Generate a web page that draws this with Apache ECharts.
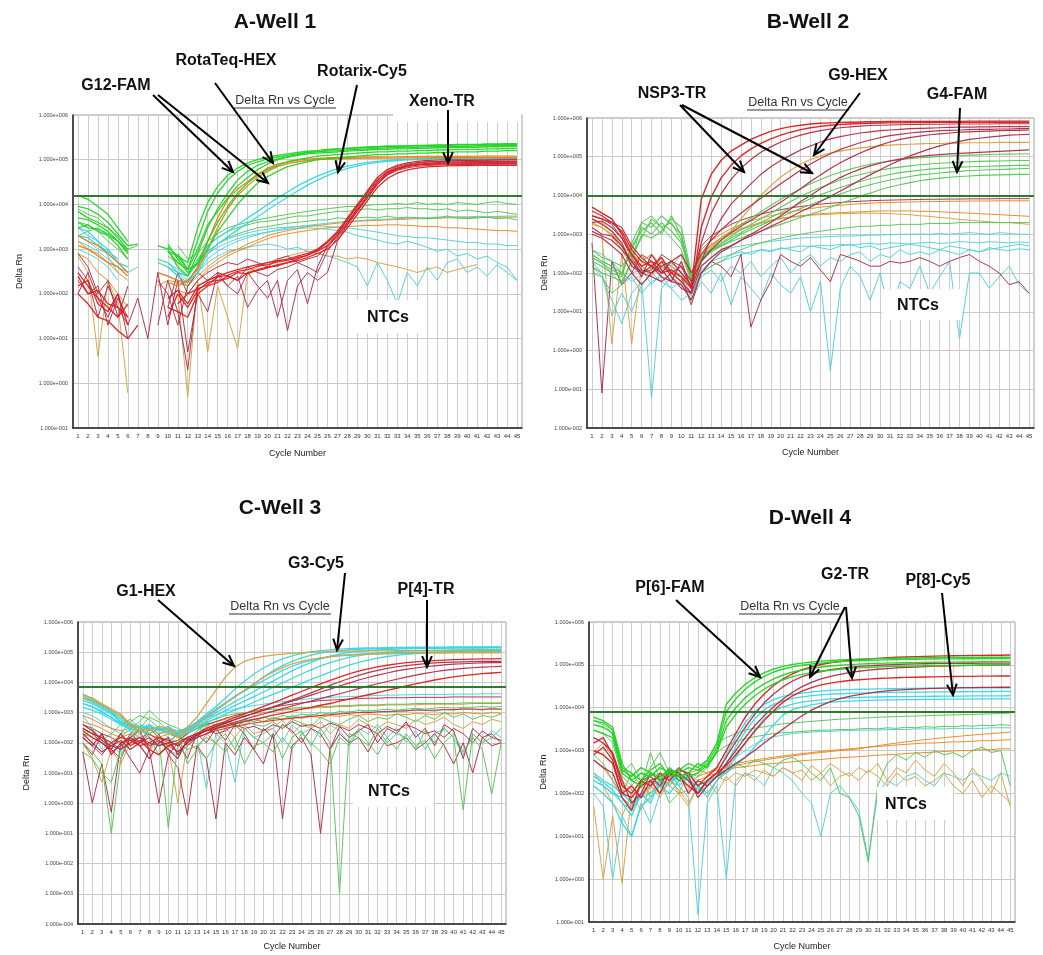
<!DOCTYPE html>
<html><head><meta charset="utf-8">
<script src="https://cdn.jsdelivr.net/npm/echarts@6/dist/echarts.min.js"></script>
<style>html,body{margin:0;padding:0;background:#fff}#c{width:1043px;height:955px}</style>
</head><body><div id="c"></div>
<script>
// ---------- axes ----------
const cycles = [1,2,3,4,5,6,7,8,9,10,11,12,13,14,15,16,17,18,19,20,21,22,23,24,25,26,27,28,29,30,31,32,33,34,35,36,37,38,39,40,41,42,43,44,45];
const yTicksA = [0.1,1,10,100,1e3,1e4,1e5,1e6];
const yTicksB = [0.01,0.1,1,10,100,1e3,1e4,1e5,1e6];
const yTicksC = [1e-4,1e-3,0.01,0.1,1,10,100,1e3,1e4,1e5,1e6];
const yTicksD = [0.1,1,10,100,1e3,1e4,1e5,1e6];
const thresholdA = 1.6e4, thresholdB = 1e4, thresholdC = 7e3, thresholdD = 8e3;

// ---------- A-Well 1 ----------
const aG1 = [1.6e4,1.3e4,9e3,6e3,3e3,1.5e3,null,null,null,1.1e3,700,500,3e3,1.1e4,2.5e4,4.5e4,6.5e4,8.5e4,1e5,1.15e5,1.25e5,1.35e5,1.45e5,1.55e5,1.6e5,1.7e5,1.75e5,1.8e5,1.85e5,1.9e5,1.95e5,2e5,2e5,2.05e5,2.1e5,2.1e5,2.15e5,2.15e5,2.2e5,2.2e5,2.2e5,2.25e5,2.25e5,2.3e5,2.3e5];
const aG2 = [9e3,8e3,6e3,4e3,2.2e3,1.2e3,1.3e3,null,null,900,500,350,1.6e3,7e3,1.8e4,3.5e4,5.5e4,7.5e4,9e4,1.05e5,1.15e5,1.25e5,1.35e5,1.45e5,1.5e5,1.55e5,1.6e5,1.65e5,1.7e5,1.75e5,1.8e5,1.85e5,1.85e5,1.9e5,1.9e5,1.95e5,1.95e5,2e5,2e5,2e5,2.05e5,2.05e5,2.1e5,2.1e5,2.1e5];
const aG3 = [5e3,4.5e3,3.5e3,2.5e3,1.5e3,900,null,null,1.2e3,1e3,400,250,800,3e3,8e3,1.8e4,3.5e4,5.5e4,7.5e4,9e4,1.05e5,1.15e5,1.25e5,1.35e5,1.4e5,1.45e5,1.5e5,1.55e5,1.6e5,1.65e5,1.7e5,1.7e5,1.75e5,1.75e5,1.8e5,1.8e5,1.85e5,1.85e5,1.9e5,1.9e5,1.9e5,1.95e5,1.95e5,2e5,2e5];
const aG4 = [3e3,3.5e3,2.5e3,2e3,1.2e3,600,null,null,null,1.3e3,600,300,500,1.5e3,4e3,9e3,1.8e4,3e4,4.5e4,6e4,7.5e4,9e4,1e5,1.1e5,1.2e5,1.25e5,1.3e5,1.35e5,1.4e5,1.45e5,1.5e5,1.5e5,1.55e5,1.55e5,1.6e5,1.6e5,1.65e5,1.65e5,1.7e5,1.7e5,1.7e5,1.75e5,1.75e5,1.8e5,1.8e5];
const aG5 = [7e3,5e3,4e3,3e3,1.8e3,1e3,null,null,null,null,800,350,450,1e3,2.5e3,5e3,1e4,1.8e4,3e4,4.2e4,5.5e4,7e4,8e4,9e4,1e5,1.05e5,1.1e5,1.15e5,1.2e5,1.25e5,1.3e5,1.3e5,1.35e5,1.35e5,1.4e5,1.4e5,1.45e5,1.45e5,1.5e5,1.5e5,1.5e5,1.55e5,1.55e5,1.6e5,1.6e5];
const aG6 = [4e3,3e3,2.8e3,2.2e3,1.5e3,800,null,null,null,900,700,350,1e3,3.5e3,7e3,1.4e4,2.6e4,4e4,6e4,8e4,1e5,1.15e5,1.3e5,1.45e5,1.55e5,1.65e5,1.75e5,1.8e5,1.85e5,1.9e5,1.95e5,2e5,2e5,2.05e5,2.05e5,2.1e5,2.1e5,2.1e5,2.15e5,2.15e5,2.15e5,2.2e5,2.2e5,2.2e5,2.2e5];
const aO1 = [2e3,1.5e3,1.2e3,800,500,300,null,null,300,250,200,180,400,1.5e3,5e3,1.3e4,2.2e4,3.2e4,4.8e4,6.5e4,8e4,9e4,9.8e4,1.03e5,1.07e5,1.1e5,1.12e5,1.13e5,1.14e5,1.15e5,1.15e5,1.16e5,1.16e5,1.17e5,1.17e5,1.18e5,1.18e5,1.18e5,1.19e5,1.19e5,1.2e5,1.2e5,1.2e5,1.2e5,1.2e5];
const aO2 = [1.2e3,1e3,700,500,400,250,null,null,null,180,150,200,350,1e3,3e3,8e3,1.6e4,2.6e4,4e4,5.5e4,7e4,8.2e4,9e4,9.6e4,1e5,1.03e5,1.05e5,1.06e5,1.07e5,1.08e5,1.08e5,1.09e5,1.09e5,1.1e5,1.1e5,1.1e5,1.11e5,1.11e5,1.12e5,1.12e5,1.12e5,1.13e5,1.13e5,1.13e5,1.13e5];
const aC1 = [3e3,2.5e3,1.5e3,1e3,500,400,null,null,600,500,300,250,500,1.2e3,1.8e3,2.5e3,3.5e3,5e3,7e3,1e4,1.4e4,1.9e4,2.6e4,3.4e4,4.3e4,5.3e4,6.3e4,7.2e4,8e4,8.7e4,9.2e4,9.6e4,1e5,1.02e5,1.04e5,1.05e5,1.06e5,1.07e5,1.08e5,1.08e5,1.09e5,1.09e5,1.1e5,1.1e5,1.1e5];
const aC2 = [2e3,1.8e3,1.2e3,900,600,null,null,null,null,400,250,180,300,800,1.3e3,1.9e3,2.7e3,3.8e3,5.3e3,7.5e3,1.05e4,1.45e4,2e4,2.7e4,3.5e4,4.4e4,5.4e4,6.4e4,7.3e4,8.1e4,8.7e4,9.2e4,9.6e4,9.9e4,1.01e5,1.03e5,1.04e5,1.05e5,1.06e5,1.06e5,1.07e5,1.07e5,1.08e5,1.08e5,1.08e5];
const aR1 = [300,150,80,50,30,60,null,null,null,80,120,60,150,200,250,300,350,400,450,500,550,600,700,800,1e3,1.5e3,2.5e3,5e3,1e4,2e4,4e4,6e4,7.5e4,8.5e4,9.2e4,9.6e4,9.9e4,1.01e5,1.02e5,1.03e5,1.04e5,1.04e5,1.05e5,1.05e5,1.05e5];
const aR2 = [150,200,60,40,100,20,null,null,null,30,100,50,120,180,200,220,300,280,350,400,420,500,600,750,900,1.2e3,2e3,3.8e3,7.5e3,1.5e4,3e4,4.8e4,6.2e4,7.2e4,7.9e4,8.3e4,8.6e4,8.8e4,8.9e4,9e4,9e4,9e4,9.1e4,9.1e4,9.1e4];
const aR3 = [100,60,30,25,15,10,20,null,null,50,40,30,100,150,180,250,200,300,330,380,450,500,550,650,800,1e3,1.6e3,3e3,6e3,1.2e4,2.4e4,3.8e4,5e4,5.9e4,6.5e4,6.9e4,7.1e4,7.3e4,7.4e4,7.4e4,7.5e4,7.5e4,7.5e4,7.5e4,7.5e4];
const aR4 = [250,100,120,60,50,30,null,null,null,null,60,100,130,160,240,260,320,350,420,450,520,560,650,720,950,1.4e3,2.3e3,4.5e3,9e3,1.8e4,3.5e4,5.3e4,6.5e4,7.3e4,7.7e4,7.9e4,8e4,8.1e4,8.1e4,8.2e4,8.2e4,8.2e4,8.2e4,8.2e4,8.2e4];
const aNR1 = [400,200,30,150,50,20,80,10,300,20,200,5,100,40,300,150,250,50,120,200,30,200,350,60,400,1.2e3,2.2e3,4.5e3,9e3,1.8e4,3.5e4,5.5e4,7e4,8e4,8.6e4,9e4,9.2e4,9.4e4,9.5e4,9.6e4,9.7e4,9.7e4,9.8e4,9.8e4,9.8e4];
const aNR2 = [200,100,150,20,80,30,null,null,200,100,20,150,300,200,250,150,100,300,150,80,200,15,150,300,200,300,1.5e3,3.5e3,7e3,1.4e4,2.8e4,4.6e4,6e4,7e4,7.6e4,8e4,8.2e4,8.4e4,8.5e4,8.6e4,8.6e4,8.7e4,8.7e4,8.7e4,8.7e4];
const aNR3 = [100,300,80,30,100,10,null,null,20,200,40,2,150,200,300,250,200,400,300,250,350,400,500,400,300,900,1.8e3,3.5e3,7e3,1.4e4,2.8e4,4.5e4,5.8e4,6.6e4,7.1e4,7.4e4,7.6e4,7.7e4,7.8e4,7.8e4,7.9e4,7.9e4,7.9e4,8e4,8e4];
const aNR4 = [800,400,100,200,30,150,null,null,null,50,300,100,200,300,400,500,450,600,500,400,600,700,500,600,700,1.1e3,2e3,4e3,8e3,1.6e4,3.2e4,5e4,6.5e4,7.6e4,8.3e4,8.8e4,9.1e4,9.3e4,9.5e4,9.6e4,9.7e4,9.8e4,9.9e4,1e5,1e5];
const aNG1 = [8e3,6e3,5e3,3e3,2e3,1.2e3,null,null,null,null,1.2e3,600,800,1.5e3,2.2e3,3e3,3.5e3,4e3,4.5e3,5e3,5.5e3,6e3,6.5e3,7e3,7.5e3,8e3,8.5e3,9e3,9e3,9.5e3,1e4,1e4,1.05e4,1e4,1.1e4,1e4,1.05e4,1e4,1.1e4,1.05e4,1e4,1.1e4,1.15e4,1.05e4,1e4];
const aNG2 = [4e3,3.5e3,2.5e3,1.5e3,1e3,600,null,null,500,400,300,250,600,1.2e3,1.8e3,2.5e3,3e3,3.5e3,4e3,4.2e3,4.5e3,5e3,5.5e3,5.5e3,6e3,6.5e3,7e3,7e3,7.5e3,8e3,7.5e3,8e3,8e3,8.5e3,8e3,8e3,7.5e3,8e3,7e3,7.5e3,7e3,6.5e3,7e3,6.5e3,6e3];
const aNG3 = [2e3,2.5e3,3e3,2e3,1.5e3,1e3,1.2e3,null,null,700,500,350,500,900,1.3e3,1.8e3,2.2e3,2.6e3,3e3,3.2e3,3.5e3,3.8e3,4e3,4.2e3,4.5e3,4.5e3,5e3,4.8e3,5e3,5.2e3,5e3,5.5e3,5e3,5.2e3,5e3,4.8e3,5e3,5.5e3,5e3,4.8e3,5e3,5.2e3,4.8e3,5e3,4.5e3];
const aNO1 = [1.5e3,1e3,800,500,300,200,null,null,150,200,180,150,250,400,600,800,1e3,1.3e3,1.6e3,2e3,2.3e3,2.6e3,2.9e3,3.2e3,3.4e3,3.6e3,3.8e3,4e3,4.2e3,4.3e3,4.4e3,4.5e3,4.6e3,4.7e3,4.8e3,4.8e3,4.9e3,5e3,5e3,5e3,5.1e3,5.1e3,5.2e3,5.2e3,5.2e3];
const aNO2 = [800,600,300,200,100,50,null,null,null,80,120,100,200,350,500,700,900,1.1e3,1.4e3,1.7e3,2e3,2.2e3,2.4e3,2.6e3,2.8e3,3e3,3.1e3,3.2e3,3.3e3,3.4e3,3.4e3,3.5e3,3.5e3,3.4e3,3.3e3,3.2e3,3.2e3,3e3,3e3,2.9e3,2.8e3,2.7e3,2.6e3,2.6e3,2.5e3];
const aNO3 = [700,300,4,200,60,0.6,null,null,null,null,100,0.5,200,5,150,30,6,300,400,500,600,700,800,900,800,700,700,600,650,600,500,450,400,350,300,350,400,300,350,400,450,null,null,null,null];
const aNC1 = [1e3,800,600,400,200,null,null,null,300,250,200,150,300,600,900,1.2e3,1.5e3,1.8e3,2.1e3,2.4e3,2.7e3,3e3,3.2e3,3.4e3,3.6e3,3.8e3,4e3,4.2e3,4.3e3,4.5e3,4.6e3,4.7e3,4.8e3,4.9e3,5e3,5.1e3,5.2e3,5.2e3,5.3e3,5.3e3,5.4e3,5.4e3,5.4e3,5.5e3,5.5e3];
const aNC2 = [2e3,1.5e3,1e3,800,500,300,400,null,null,null,300,200,400,800,1.1e3,1.4e3,1.7e3,2e3,2.2e3,2.4e3,2.6e3,2.8e3,2.9e3,3e3,2.9e3,2.8e3,2.6e3,2.4e3,2e3,1.8e3,1.6e3,1.4e3,1.3e3,1.5e3,1.3e3,1.1e3,900,1e3,700,800,600,700,500,400,200];
const aNC3 = [3e3,2e3,1.5e3,700,300,null,null,null,null,null,250,150,300,500,700,900,1e3,1.1e3,1.2e3,1.3e3,1.2e3,1e3,1.1e3,900,800,700,600,500,400,150,500,200,60,300,150,400,200,500,600,300,400,250,450,300,200];
const aNC4 = [1.5e3,1.2e3,900,600,400,300,null,null,null,500,350,250,500,900,1.3e3,1.7e3,2e3,2.3e3,2.6e3,2.8e3,3e3,3.1e3,3.2e3,3.3e3,3.3e3,3.2e3,3.1e3,3e3,2.8e3,2.6e3,2.4e3,2.2e3,2e3,1.9e3,1.8e3,1.8e3,1.7e3,1.6e3,1.5e3,1.4e3,1.4e3,1.3e3,1.3e3,1.2e3,1.2e3];

// ---------- B-Well 2 ----------
const bR1 = [5e3,3.5e3,2.5e3,1e3,300,150,200,100,120,80,40,8e3,3.5e4,8e4,1.4e5,2e5,2.8e5,3.6e5,4.5e5,5.3e5,6e5,6.5e5,7e5,7.3e5,7.5e5,7.7e5,7.8e5,7.9e5,8e5,8e5,8.1e5,8.1e5,8.1e5,8.2e5,8.2e5,8.2e5,8.2e5,8.2e5,8.3e5,8.3e5,8.3e5,8.3e5,8.3e5,8.3e5,8.3e5];
const bR2 = [3e3,2.5e3,2e3,1.2e3,400,200,150,250,100,60,30,1.5e3,9e3,2.8e4,6e4,1.05e5,1.6e5,2.2e5,2.9e5,3.6e5,4.3e5,5e5,5.6e5,6.1e5,6.5e5,6.8e5,7e5,7.2e5,7.3e5,7.4e5,7.5e5,7.5e5,7.6e5,7.6e5,7.6e5,7.7e5,7.7e5,7.7e5,7.7e5,7.7e5,7.8e5,7.8e5,7.8e5,7.8e5,7.8e5];
const bR3 = [2e3,2.2e3,1.5e3,800,300,120,100,150,200,100,50,600,3.5e3,1.1e4,2.6e4,5e4,8.5e4,1.3e5,1.8e5,2.4e5,3e5,3.6e5,4.2e5,4.7e5,5.2e5,5.6e5,5.9e5,6.2e5,6.4e5,6.5e5,6.6e5,6.7e5,6.8e5,6.8e5,6.9e5,6.9e5,7e5,7e5,7e5,7e5,7e5,7.1e5,7.1e5,7.1e5,7.1e5];
const bR4 = [1.5e3,1e3,900,500,200,80,300,120,60,200,40,200,800,2.5e3,6e3,1.1e4,2e4,3.5e4,5.5e4,8e4,1.1e5,1.5e5,1.9e5,2.4e5,2.9e5,3.3e5,3.7e5,4.1e5,4.4e5,4.7e5,4.9e5,5.1e5,5.3e5,5.4e5,5.5e5,5.6e5,5.7e5,5.8e5,5.8e5,5.9e5,5.9e5,6e5,6e5,6e5,6e5];
const bR5 = [2.5e3,1.8e3,1.2e3,600,150,100,80,60,100,150,60,200,400,700,1.1e3,1.6e3,2.3e3,3.3e3,4.7e3,6.7e3,1e4,1.5e4,2.3e4,3.4e4,5e4,7e4,9.5e4,1.25e5,1.6e5,2e5,2.4e5,2.8e5,3.1e5,3.4e5,3.7e5,3.9e5,4.1e5,4.3e5,4.4e5,4.5e5,4.6e5,4.7e5,4.8e5,4.8e5,4.9e5];
const bR6 = [4e3,3e3,2e3,1.5e3,500,250,150,100,200,300,100,300,700,1.3e3,2.2e3,3.5e3,5.5e3,8.5e3,1.3e4,2e4,3e4,4.5e4,6.5e4,9e4,1.2e5,1.55e5,1.9e5,2.3e5,2.7e5,3.1e5,3.5e5,3.8e5,4.1e5,4.3e5,4.5e5,4.7e5,4.8e5,4.9e5,5e5,5.1e5,5.1e5,5.2e5,5.2e5,5.3e5,5.3e5];
const bR7 = [1e3,800,500,300,100,50,100,200,80,40,30,150,250,400,500,700,900,1.2e3,1.6e3,2.1e3,2.8e3,3.8e3,5e3,7e3,9.5e3,1.3e4,1.8e4,2.5e4,3.4e4,4.6e4,6.2e4,8.2e4,1.05e5,1.3e5,1.6e5,1.9e5,2.2e5,2.5e5,2.8e5,3e5,3.2e5,3.4e5,3.6e5,3.7e5,3.8e5];
const bR8 = [1.2e3,900,700,400,200,100,150,80,60,50,20,100,200,350,500,700,1e3,1.4e3,2e3,3e3,4.5e3,7e3,1e4,1.5e4,2.1e4,2.9e4,3.8e4,4.8e4,5.8e4,6.8e4,7.8e4,8.7e4,9.5e4,1.02e5,1.08e5,1.13e5,1.18e5,1.22e5,1.26e5,1.3e5,1.34e5,1.38e5,1.42e5,1.46e5,1.5e5];
const bO1 = [2e3,1.5e3,1e3,500,300,200,300,150,100,80,50,300,500,800,1.2e3,2.5e3,5e3,1e4,1.8e4,3e4,4.5e4,6.5e4,8.5e4,1.05e5,1.25e5,1.4e5,1.55e5,1.7e5,1.8e5,1.9e5,2e5,2.05e5,2.1e5,2.15e5,2.2e5,2.2e5,2.25e5,2.25e5,2.3e5,2.3e5,2.3e5,2.35e5,2.35e5,2.35e5,2.35e5];
const bG1 = [300,200,150,100,400,1.5e3,1e3,2e3,1.2e3,600,100,300,500,800,1.2e3,1.8e3,2.6e3,3.8e3,5.5e3,8e3,1.1e4,1.5e4,2e4,2.6e4,3.3e4,4e4,4.8e4,5.6e4,6.4e4,7.1e4,7.8e4,8.4e4,8.9e4,9.4e4,9.8e4,1.02e5,1.05e5,1.08e5,1.1e5,1.12e5,1.14e5,1.16e5,1.17e5,1.18e5,1.2e5];
const bG2 = [200,150,100,80,600,2e3,1.5e3,3e3,1.8e3,1e3,80,250,400,600,900,1.3e3,1.8e3,2.5e3,3.5e3,5e3,7e3,9.5e3,1.25e4,1.6e4,2e4,2.5e4,3e4,3.5e4,4e4,4.5e4,5e4,5.4e4,5.8e4,6.2e4,6.5e4,6.8e4,7e4,7.2e4,7.4e4,7.6e4,7.7e4,7.8e4,7.9e4,8e4,8e4];
const bG3 = [400,250,200,150,300,800,2.5e3,1.5e3,2e3,700,60,200,350,500,700,1e3,1.3e3,1.7e3,2.2e3,2.8e3,3.6e3,4.6e3,5.8e3,7.3e3,9e3,1.1e4,1.35e4,1.6e4,1.9e4,2.2e4,2.5e4,2.8e4,3.1e4,3.4e4,3.6e4,3.8e4,4e4,4.2e4,4.4e4,4.5e4,4.6e4,4.7e4,4.8e4,4.9e4,5e4];
const bG4 = [150,100,80,60,200,1e3,800,1.2e3,2.5e3,1.5e3,100,300,400,500,650,800,1e3,1.2e3,1.5e3,1.8e3,2.2e3,2.7e3,3.3e3,4e3,5e3,6.2e3,7.7e3,9.5e3,1.15e4,1.4e4,1.65e4,1.9e4,2.15e4,2.4e4,2.6e4,2.8e4,2.95e4,3.1e4,3.2e4,3.3e4,3.35e4,3.4e4,3.45e4,3.5e4,3.5e4];
const bG5 = [250,180,120,90,500,1.2e3,2e3,1e3,3e3,900,70,220,380,550,800,1.1e3,1.5e3,2e3,2.7e3,3.6e3,4.8e3,6.3e3,8.2e3,1.05e4,1.3e4,1.6e4,1.95e4,2.3e4,2.7e4,3.1e4,3.5e4,3.9e4,4.2e4,4.5e4,4.8e4,5e4,5.2e4,5.4e4,5.5e4,5.6e4,5.7e4,5.8e4,5.9e4,6e4,6e4];
const bNG1 = [100,80,30,50,200,2e3,3e3,1.5e3,800,400,60,100,150,200,300,400,500,600,700,800,900,1e3,1.1e3,1.2e3,1.3e3,1.4e3,1.5e3,1.6e3,1.6e3,1.7e3,1.7e3,1.8e3,1.8e3,1.8e3,1.9e3,1.9e3,1.9e3,2e3,2e3,2e3,2e3,2e3,2e3,2e3,2e3];
const bNO1 = [2.5e3,2e3,1.2e3,500,200,150,100,200,150,100,40,400,700,1e3,1.4e3,1.8e3,2.2e3,2.6e3,3e3,3.4e3,3.8e3,4.2e3,4.6e3,5e3,5.3e3,5.6e3,5.9e3,6.1e3,6.3e3,6.5e3,6.6e3,6.7e3,6.8e3,6.9e3,7e3,7e3,7.1e3,7.1e3,7.2e3,7.2e3,7.2e3,7.3e3,7.3e3,7.3e3,7.3e3];
const bNO2 = [1.8e3,1.5e3,900,400,150,300,120,250,100,80,50,300,550,800,1.1e3,1.4e3,1.7e3,2e3,2.3e3,2.6e3,2.8e3,3e3,3.2e3,3.4e3,3.5e3,3.6e3,3.7e3,3.8e3,3.9e3,4e3,4e3,4e3,4e3,3.9e3,3.9e3,3.8e3,3.7e3,3.6e3,3.5e3,3.4e3,3.3e3,3.2e3,3.1e3,3e3,2.9e3];
const bNO3 = [1.2e3,900,1.5,300,1.5,150,80,200,150,300,60,250,450,700,1e3,1.3e3,1.6e3,1.9e3,2.2e3,2.5e3,2.7e3,2.9e3,3.1e3,3.2e3,3.3e3,3.4e3,3.4e3,3.5e3,3.5e3,3.5e3,3.4e3,3.3e3,3.2e3,3e3,2.9e3,2.7e3,2.6e3,2.4e3,2.3e3,2.2e3,2.1e3,2e3,2e3,1.9e3,1.8e3];
const bNR1 = [3e3,2.5e3,1.8e3,800,250,100,120,300,200,150,40,500,900,1.3e3,1.8e3,2.3e3,2.8e3,3.3e3,3.8e3,4.3e3,4.8e3,5.2e3,5.6e3,6e3,6.3e3,6.6e3,6.9e3,7.1e3,7.3e3,7.5e3,7.6e3,7.7e3,7.8e3,7.9e3,8e3,8e3,8.1e3,8.1e3,8.2e3,8.2e3,8.2e3,8.3e3,8.3e3,8.3e3,8.3e3];
const bNR2 = [600,0.08,200,50,100,300,200,150,100,80,15,100,200,150,80,300,4,20,60,300,200,150,250,120,60,300,250,200,150,150,200,180,200,250,200,150,200,250,300,200,150,100,50,60,30];
const bNC1 = [300,200,150,60,100,120,50,100,150,80,30,100,150,200,250,300,350,400,380,420,450,500,480,520,500,550,520,560,580,550,600,580,560,600,620,580,600,650,620,600,640,620,600,630,600];
const bNC2 = [200,100,8,30,10,50,100,60,40,20,30,80,120,60,150,100,200,80,150,250,100,200,300,150,250,200,300,350,200,300,250,400,300,350,300,400,350,300,400,350,450,400,380,420,400];
const bNC3 = [150,80,20,5,30,60,0.06,40,80,50,20,60,30,100,15,80,40,20,100,50,30,80,10,60,0.3,40,150,80,20,100,8,60,40,150,30,80,200,2,100,100,40,80,150,50,30];
const bNC4 = [250,180,100,50,80,30,60,80,40,60,25,120,200,250,300,350,300,400,350,450,400,350,500,450,400,500,550,450,500,400,450,500,550,500,450,400,500,450,400,350,400,450,500,550,500];
const bNC5 = [400,300,200,100,60,90,150,120,200,100,40,150,250,350,450,500,550,600,650,700,750,800,820,850,870,900,900,920,950,950,980,1e3,1e3,1.02e3,1e3,1.05e3,1e3,1.05e3,1.1e3,1.05e3,1e3,1.1e3,1.05e3,1e3,1e3];

// ---------- C-Well 3 ----------
const cG1 = [4e3,3e3,2e3,1.3e3,900,400,300,250,350,300,200,330,700,2e3,5.6e3,1.5e4,3.2e4,5e4,6.3e4,7.3e4,8e4,8.7e4,9.2e4,9.6e4,1e5,1.03e5,1.05e5,1.07e5,1.09e5,1.1e5,1.1e5,1.11e5,1.11e5,1.12e5,1.12e5,1.12e5,1.13e5,1.13e5,1.13e5,1.14e5,1.14e5,1.14e5,1.15e5,1.15e5,1.15e5];
const cG2 = [3e3,2.5e3,1.8e3,1.2e3,800,350,250,300,200,250,150,250,400,700,1.2e3,2e3,3.3e3,5.5e3,9e3,1.45e4,2.2e4,3.1e4,4.1e4,5e4,5.8e4,6.5e4,7e4,7.5e4,7.9e4,8.2e4,8.5e4,8.7e4,8.9e4,9e4,9.1e4,9.2e4,9.3e4,9.4e4,9.4e4,9.5e4,9.5e4,9.6e4,9.6e4,9.6e4,9.6e4];
const cC1 = [3e3,2.2e3,1.5e3,1e3,600,400,350,300,280,300,250,300,500,900,1.6e3,3e3,6e3,1.1e4,1.9e4,3e4,4.4e4,6e4,7.6e4,9e4,1.02e5,1.12e5,1.2e5,1.26e5,1.31e5,1.35e5,1.38e5,1.4e5,1.42e5,1.44e5,1.45e5,1.46e5,1.47e5,1.48e5,1.48e5,1.49e5,1.49e5,1.5e5,1.5e5,1.5e5,1.5e5];
const cC2 = [2.5e3,2e3,1.3e3,900,500,350,300,400,250,350,200,280,450,750,1.2e3,2e3,3.5e3,5.5e3,9e3,1.5e4,2.4e4,3.6e4,5e4,6.5e4,8e4,9.3e4,1.04e5,1.12e5,1.19e5,1.24e5,1.28e5,1.31e5,1.34e5,1.36e5,1.38e5,1.39e5,1.4e5,1.41e5,1.42e5,1.42e5,1.43e5,1.43e5,1.44e5,1.44e5,1.44e5];
const cC3 = [2e3,1.6e3,1.1e3,700,450,300,250,200,300,220,180,250,400,650,1e3,1.5e3,2.3e3,3.4e3,5e3,7.5e3,1.1e4,1.65e4,2.4e4,3.4e4,4.6e4,6e4,7.4e4,8.7e4,9.8e4,1.07e5,1.14e5,1.19e5,1.23e5,1.26e5,1.29e5,1.31e5,1.33e5,1.34e5,1.35e5,1.36e5,1.37e5,1.38e5,1.38e5,1.39e5,1.39e5];
const cC4 = [4e3,2.8e3,1.8e3,1.1e3,700,450,300,350,280,300,200,230,350,550,800,1.2e3,1.7e3,2.4e3,3.4e3,4.8e3,6.8e3,9.6e3,1.35e4,1.9e4,2.6e4,3.5e4,4.5e4,5.6e4,6.7e4,7.7e4,8.6e4,9.3e4,9.9e4,1.04e5,1.08e5,1.11e5,1.14e5,1.16e5,1.18e5,1.19e5,1.2e5,1.21e5,1.22e5,1.22e5,1.23e5];
const cC5 = [1.5e3,1.2e3,900,600,400,280,250,300,200,250,170,210,300,450,650,900,1.2e3,1.6e3,2.2e3,3e3,4e3,5.3e3,7e3,9.3e3,1.25e4,1.65e4,2.2e4,2.9e4,3.7e4,4.6e4,5.5e4,6.4e4,7.2e4,7.9e4,8.5e4,9e4,9.4e4,9.8e4,1.01e5,1.04e5,1.06e5,1.08e5,1.09e5,1.1e5,1.1e5];
const cC6 = [3.5e3,2.5e3,1.6e3,1e3,500,380,330,280,320,260,220,300,480,800,1.3e3,2.1e3,3.4e3,5.2e3,7.8e3,1.15e4,1.7e4,2.5e4,3.4e4,4.4e4,5.4e4,6.3e4,7.1e4,7.8e4,8.3e4,8.7e4,9e4,9.3e4,9.5e4,9.7e4,9.8e4,9.9e4,1e5,1.01e5,1.02e5,1.02e5,1.03e5,1.03e5,1.04e5,1.04e5,1.05e5];
const cR1 = [300,200,150,100,150,120,80,100,150,120,80,150,200,300,400,500,700,900,1.2e3,1.6e3,2.1e3,2.8e3,3.8e3,5e3,6.7e3,8.9e3,1.17e4,1.5e4,1.9e4,2.35e4,2.8e4,3.25e4,3.7e4,4.1e4,4.5e4,4.8e4,5.1e4,5.3e4,5.5e4,5.65e4,5.8e4,5.9e4,6e4,6e4,6.1e4];
const cR2 = [200,100,50,80,120,60,100,150,80,100,50,100,180,250,350,450,600,750,950,1.2e3,1.5e3,1.9e3,2.4e3,3e3,3.8e3,4.8e3,6e3,7.6e3,9.5e3,1.2e4,1.45e4,1.75e4,2.05e4,2.4e4,2.7e4,3e4,3.3e4,3.55e4,3.8e4,4e4,4.15e4,4.3e4,4.4e4,4.5e4,4.5e4];
const cR3 = [150,80,200,40,100,150,80,30,100,150,40,120,150,200,300,380,480,600,750,900,1.1e3,1.35e3,1.65e3,2e3,2.4e3,2.9e3,3.5e3,4.2e3,5.1e3,6.2e3,7.5e3,9e3,1.07e4,1.27e4,1.5e4,1.75e4,2e4,2.25e4,2.5e4,2.7e4,2.9e4,3.05e4,3.2e4,3.3e4,3.4e4];
const cR4 = [250,150,100,60,200,80,120,60,40,80,100,150,200,250,300,350,420,500,600,700,820,950,1.1e3,1.3e3,1.5e3,1.75e3,2e3,2.4e3,2.8e3,3.3e3,3.9e3,4.6e3,5.4e3,6.4e3,7.6e3,8.9e3,1.04e4,1.2e4,1.36e4,1.52e4,1.68e4,1.82e4,1.95e4,2.05e4,2.15e4];
const cR5 = [400,250,120,80,60,100,150,80,120,60,30,130,180,260,350,450,580,750,950,1.2e3,1.55e3,2e3,2.6e3,3.4e3,4.5e3,6e3,8e3,1.05e4,1.35e4,1.7e4,2.1e4,2.5e4,2.9e4,3.3e4,3.6e4,3.9e4,4.2e4,4.4e4,4.6e4,4.7e4,4.8e4,4.9e4,5e4,5e4,5e4];
const cNG1 = [200,150,100,80,150,300,500,1.2e3,600,400,300,200,300,500,600,800,900,1e3,1.1e3,1.2e3,1.3e3,1.3e3,1.4e3,1.5e3,1.5e3,1.6e3,1.6e3,1.7e3,1.7e3,1.8e3,1.8e3,1.8e3,1.9e3,1.9e3,1.9e3,2e3,2e3,2e3,2e3,2e3,2.1e3,2.1e3,2.1e3,2.1e3,2.1e3];
const cNG2 = [100,50,20,0.1,30,200,400,300,150,0.15,100,60,80,150,100,200,60,300,150,100,200,30,150,250,80,300,100,0.001,200,150,80,300,100,200,150,60,250,100,300,150,0.6,200,100,150,300];
const cNG3 = [300,200,150,100,200,500,800,600,300,200,150,100,250,400,300,500,400,600,500,700,600,800,700,900,800,1e3,900,1.1e3,1e3,1.2e3,1.1e3,1.2e3,1.3e3,1.2e3,1.3e3,1.4e3,1.3e3,1.4e3,1.5e3,1.4e3,1.5e3,1.5e3,1.6e3,1.5e3,1.6e3];
const cNG4 = [50,30,10,5,60,100,300,150,40,100,200,20,60,30,100,50,150,20,80,100,50,150,60,200,100,50,20,150,80,250,100,40,150,60,200,80,120,30,100,200,50,150,60,2,100];
const cNG5 = [150,300,120,200,400,600,300,700,500,250,180,120,200,350,250,450,300,550,400,350,500,300,600,450,350,700,500,400,600,800,500,700,600,900,700,500,800,600,1e3,700,900,600,800,700,900];
const cNR1 = [300,200,100,50,80,150,100,200,120,80,50,100,150,200,250,300,350,400,450,500,550,600,650,700,750,800,850,900,950,1e3,1e3,1.05e3,1.1e3,1.1e3,1.15e3,1.2e3,1.2e3,1.2e3,1.25e3,1.25e3,1.3e3,1.3e3,1.3e3,1.3e3,1.3e3];
const cNR2 = [50,1,20,0.5,100,30,10,60,1,40,15,0.4,80,30,0.3,100,40,150,60,20,200,0.3,80,150,40,0.1,60,200,100,150,50,200,80,100,150,60,100,200,80,20,100,10,150,80,100];
const cNR3 = [400,300,200,150,100,120,150,100,80,100,120,200,300,400,500,650,800,950,1.1e3,1.3e3,1.5e3,1.7e3,1.9e3,2.1e3,2.3e3,2.5e3,2.6e3,2.7e3,2.8e3,2.9e3,3e3,3e3,3.1e3,3.1e3,3.1e3,3.2e3,3.2e3,3.2e3,3.2e3,3.3e3,3.3e3,3.3e3,3.3e3,3.3e3,3.3e3];
const cNR4 = [150,80,40,100,60,200,100,300,150,100,200,80,150,300,200,250,400,300,350,250,400,300,500,350,400,300,450,350,250,400,300,200,350,250,400,300,200,250,150,300,200,100,250,150,120];
const cNR5 = [100,40,200,60,30,150,250,60,200,40,100,30,200,100,300,120,400,200,60,300,150,400,250,100,300,200,60,350,150,250,400,100,300,200,500,150,300,80,400,250,30,300,150,200,100];
const cNO1 = [500,400,300,200,150,200,250,180,150,200,150,200,300,400,500,600,700,800,900,1e3,1.1e3,1.2e3,1.3e3,1.3e3,1.4e3,1.5e3,1.5e3,1.6e3,1.6e3,1.7e3,1.7e3,1.7e3,1.8e3,1.8e3,1.8e3,1.8e3,1.9e3,1.9e3,1.9e3,1.9e3,1.9e3,2e3,2e3,2e3,2e3];
const cNO2 = [100,30,5,60,20,100,200,50,150,80,1,100,60,200,100,300,150,400,200,250,300,600,200,400,300,500,200,400,300,600,400,300,500,400,300,600,400,500,700,400,300,500,400,600,500];
const cNO3 = [800,600,400,300,250,300,200,350,250,300,200,260,350,450,400,500,450,550,600,500,650,600,700,650,750,700,800,750,850,800,900,850,800,900,850,950,900,850,950,900,1e3,950,900,1e3,950];
const cNC1 = [2e3,1.5e3,1e3,700,400,350,300,350,280,300,220,300,450,650,850,1.1e3,1.3e3,1.5e3,1.7e3,1.9e3,2.1e3,2.3e3,2.5e3,2.7e3,2.9e3,3e3,3.2e3,3.3e3,3.4e3,3.5e3,3.6e3,3.7e3,3.8e3,3.8e3,3.9e3,3.9e3,4e3,4e3,4e3,4.1e3,4.1e3,4.1e3,4.2e3,4.2e3,4.2e3];
const cNC2 = [1e3,800,500,300,200,250,150,200,300,150,100,200,300,250,400,300,500,400,600,500,700,600,800,700,900,800,1e3,900,1.1e3,1e3,1.2e3,1.1e3,1e3,1.2e3,1.1e3,1.3e3,1.2e3,1.1e3,1.3e3,1.2e3,1.4e3,1.3e3,1.2e3,1.4e3,1.3e3];
const cNC3 = [800,300,60,100,40,150,300,200,100,60,40,80,150,3,200,100,5,300,150,200,300,100,400,200,300,150,400,250,100,300,200,400,150,300,100,250,60,200,300,150,40,200,100,250,150];

// ---------- D-Well 4 ----------
const dG1 = [6e3,5e3,3.5e3,500,200,300,250,400,300,350,500,400,600,1.5e3,1.2e4,2.2e4,3.5e4,5e4,6.5e4,8e4,9.2e4,1.02e5,1.1e5,1.17e5,1.22e5,1.26e5,1.3e5,1.33e5,1.36e5,1.38e5,1.4e5,1.42e5,1.43e5,1.44e5,1.45e5,1.46e5,1.47e5,1.48e5,1.48e5,1.49e5,1.49e5,1.5e5,1.5e5,1.5e5,1.5e5];
const dG2 = [5e3,4.5e3,3e3,400,300,200,350,500,250,300,400,350,500,1.2e3,8e3,1.6e4,2.7e4,4e4,5.4e4,6.8e4,8e4,9e4,9.8e4,1.05e5,1.1e5,1.15e5,1.19e5,1.22e5,1.25e5,1.27e5,1.29e5,1.31e5,1.33e5,1.34e5,1.35e5,1.36e5,1.37e5,1.38e5,1.38e5,1.39e5,1.39e5,1.4e5,1.4e5,1.4e5,1.4e5];
const dG3 = [4e3,3.5e3,2.5e3,350,250,400,300,200,400,250,300,500,400,1e3,5e3,1e4,1.7e4,2.6e4,3.6e4,4.7e4,5.8e4,6.8e4,7.6e4,8.3e4,8.9e4,9.4e4,9.8e4,1.01e5,1.04e5,1.06e5,1.08e5,1.1e5,1.11e5,1.12e5,1.13e5,1.14e5,1.15e5,1.16e5,1.16e5,1.17e5,1.17e5,1.18e5,1.18e5,1.19e5,1.2e5];
const dG4 = [3e3,2.5e3,2e3,300,200,150,300,250,350,200,250,300,450,900,3.5e3,7e3,1.2e4,1.9e4,2.7e4,3.6e4,4.5e4,5.3e4,6e4,6.6e4,7.1e4,7.5e4,7.9e4,8.2e4,8.5e4,8.7e4,8.9e4,9.1e4,9.2e4,9.3e4,9.4e4,9.5e4,9.6e4,9.7e4,9.7e4,9.8e4,9.8e4,9.9e4,9.9e4,1e5,1e5];
const dR1 = [1.5e3,2e3,800,150,100,200,150,300,200,350,300,150,250,400,1e3,2.5e3,6e3,1.2e4,2.1e4,3.3e4,4.7e4,6.2e4,7.7e4,9e4,1.02e5,1.12e5,1.2e5,1.27e5,1.33e5,1.38e5,1.42e5,1.46e5,1.5e5,1.53e5,1.56e5,1.58e5,1.6e5,1.62e5,1.63e5,1.64e5,1.65e5,1.66e5,1.67e5,1.68e5,1.7e5];
const dR2 = [800,1.2e3,600,100,80,150,200,250,350,300,200,100,200,300,700,1.6e3,3.5e3,7e3,1.3e4,2.1e4,3.1e4,4.2e4,5.3e4,6.2e4,7e4,7.7e4,8.3e4,8.8e4,9.2e4,9.5e4,9.8e4,1e5,1.02e5,1.04e5,1.05e5,1.06e5,1.07e5,1.08e5,1.08e5,1.09e5,1.09e5,1.1e5,1.1e5,1.1e5,1.1e5];
const dR3 = [2e3,1.5e3,900,200,60,100,300,200,250,400,250,80,150,250,500,1e3,2e3,3.8e3,6.5e3,1.05e4,1.6e4,2.3e4,3.1e4,3.9e4,4.7e4,5.4e4,6e4,6.6e4,7.1e4,7.5e4,7.9e4,8.2e4,8.5e4,8.7e4,8.9e4,9.1e4,9.3e4,9.4e4,9.5e4,9.6e4,9.7e4,9.8e4,9.9e4,1e5,1e5];
const dR4 = [1e3,800,500,100,150,80,200,100,300,250,150,100,200,300,450,800,1.5e3,2.8e3,5e3,8.5e3,1.35e4,1.9e4,2.45e4,2.95e4,3.4e4,3.75e4,4.05e4,4.3e4,4.5e4,4.65e4,4.8e4,4.9e4,5e4,5.1e4,5.15e4,5.2e4,5.25e4,5.3e4,5.35e4,5.4e4,5.4e4,5.45e4,5.45e4,5.5e4,5.5e4];
const dR5 = [600,400,300,80,40,200,250,150,350,300,100,200,150,250,350,500,700,1e3,1.5e3,2.2e3,3.2e3,4.6e3,6.5e3,8.8e3,1.12e4,1.38e4,1.62e4,1.84e4,2.03e4,2.2e4,2.35e4,2.47e4,2.57e4,2.65e4,2.72e4,2.78e4,2.83e4,2.87e4,2.9e4,2.93e4,2.95e4,2.97e4,2.98e4,3e4,3e4];
const dC1 = [300,200,150,100,60,80,100,150,200,250,200,150,200,300,800,2e3,4.5e3,8e3,1.2e4,1.55e4,1.85e4,2.05e4,2.2e4,2.35e4,2.45e4,2.55e4,2.6e4,2.65e4,2.7e4,2.72e4,2.75e4,2.77e4,2.8e4,2.82e4,2.84e4,2.85e4,2.86e4,2.87e4,2.88e4,2.89e4,2.9e4,2.9e4,2.9e4,2.9e4,2.9e4];
const dC2 = [200,150,100,80,40,100,150,200,300,150,250,100,150,250,500,1.2e3,2.8e3,5.5e3,9e3,1.2e4,1.45e4,1.65e4,1.8e4,1.92e4,2e4,2.07e4,2.12e4,2.16e4,2.2e4,2.22e4,2.25e4,2.27e4,2.29e4,2.3e4,2.31e4,2.32e4,2.33e4,2.34e4,2.35e4,2.36e4,2.37e4,2.38e4,2.39e4,2.4e4,2.4e4];
const dC3 = [150,100,60,20,10,50,80,150,100,200,300,150,100,200,350,700,1.5e3,3e3,5.5e3,8.2e3,1.05e4,1.22e4,1.35e4,1.45e4,1.53e4,1.6e4,1.65e4,1.7e4,1.73e4,1.76e4,1.78e4,1.8e4,1.81e4,1.82e4,1.83e4,1.84e4,1.85e4,1.86e4,1.87e4,1.87e4,1.88e4,1.88e4,1.89e4,1.89e4,1.9e4];
const dC4 = [250,180,120,60,30,100,60,200,150,300,200,120,180,250,300,450,700,1.2e3,2.2e3,4e3,6.8e3,9e3,1.05e4,1.17e4,1.26e4,1.33e4,1.38e4,1.42e4,1.45e4,1.48e4,1.5e4,1.52e4,1.53e4,1.54e4,1.55e4,1.56e4,1.57e4,1.58e4,1.58e4,1.59e4,1.59e4,1.6e4,1.6e4,1.6e4,1.6e4];
const dNG1 = [5e3,4e3,2.5e3,300,500,200,400,900,300,200,250,300,600,1.5e3,2e3,2.5e3,3e3,3.3e3,3.6e3,3.9e3,4.2e3,4.4e3,4.6e3,4.8e3,5e3,5.2e3,5.4e3,5.5e3,5.7e3,5.8e3,6e3,6.1e3,6.2e3,6.3e3,6.4e3,6.5e3,6.6e3,6.7e3,6.8e3,6.9e3,7e3,7.1e3,7.2e3,7.3e3,7.5e3];
const dNG2 = [3e3,2.5e3,1.5e3,250,150,300,200,150,350,200,300,250,400,900,1.3e3,1.6e3,1.9e3,2.1e3,2.3e3,2.5e3,2.6e3,2.7e3,2.8e3,2.9e3,3e3,3e3,3.1e3,3.1e3,3.2e3,3.3e3,3.2e3,3.4e3,3.3e3,3.5e3,3.4e3,3.6e3,3.5e3,3.7e3,3.6e3,3.8e3,3.7e3,3.9e3,3.8e3,4e3,3.9e3];
const dNG3 = [800,500,200,100,300,150,900,200,60,100,300,150,80,200,300,500,400,600,500,400,600,700,500,300,200,400,100,80,30,2.5,150,500,800,600,900,700,1e3,800,900,700,1e3,1.2e3,900,1e3,150];
const dNO1 = [1e3,800,500,150,100,200,150,250,300,200,150,250,300,350,400,450,500,550,600,650,700,750,800,850,900,950,1e3,1.05e3,1.1e3,1.2e3,1.3e3,1.4e3,1.5e3,1.6e3,1.7e3,1.8e3,1.9e3,2e3,2.1e3,2.2e3,2.3e3,2.4e3,2.5e3,2.6e3,2.7e3];
const dNO2 = [600,400,200,80,50,150,100,200,150,100,120,200,250,300,350,400,420,450,480,500,520,550,580,600,620,650,680,700,720,750,780,800,820,850,880,900,920,950,980,1e3,1e3,1.05e3,1.05e3,1.1e3,1.1e3];
const dNO3 = [50,1,30,0.8,100,40,150,80,200,120,60,150,200,100,250,150,300,200,350,250,400,300,200,450,300,500,350,250,400,300,500,200,400,300,600,350,250,500,300,150,400,200,100,300,50];
const dNO4 = [900,1.5e3,700,200,120,80,150,100,180,250,300,350,300,400,450,500,550,600,650,700,750,800,850,900,950,1e3,1.05e3,1.1e3,1.15e3,1.2e3,1.25e3,1.3e3,1.35e3,1.4e3,1.45e3,1.5e3,1.5e3,1.55e3,1.6e3,1.6e3,1.65e3,1.7e3,1.7e3,1.75e3,1.8e3];
const dNO5 = [300,150,60,30,100,200,80,150,250,100,50,150,200,250,200,300,250,350,300,250,400,300,350,200,300,150,250,300,200,350,250,150,300,200,250,150,200,300,150,100,200,80,150,100,60];
const dNC1 = [200,150,100,60,40,100,150,300,250,200,300,200,150,250,400,700,1e3,1.4e3,1.8e3,2.1e3,2.3e3,2.5e3,2.6e3,2.7e3,2.8e3,2.8e3,2.9e3,2.9e3,3e3,3e3,3e3,3.1e3,3.1e3,3.1e3,3.2e3,3.2e3,3.2e3,3.2e3,3.3e3,3.3e3,3.3e3,3.3e3,3.4e3,3.4e3,3.4e3];
const dNC2 = [100,50,1,30,10,60,20,100,200,150,80,0.15,60,150,1,200,300,250,150,400,300,200,100,60,10,100,150,80,40,3,100,200,150,250,300,200,150,300,250,200,300,250,200,300,250];

// ---------- colours ----------
const C_FAM = '#22d422', C_FAM_N = '#52c752', C_HEX = '#e67e17', C_HEX_N = '#e8891f', C_GOLD = '#d6a13e',
      C_CY5 = '#33d8e2', C_CY5_N = '#4cd2da', C_TR = '#dc1c1c', C_TR_D = '#b02a44';

const panels = [
  { grid:{left:73,top:115,width:449,height:313}, min:0.1, max:1e6, ticks:yTicksA, thr:thresholdA, yGap:49, xGap:21,
    groups:[[[aNC1,aNC2,aNC3,aNC4],C_CY5_N,1],[[aNO1,aNO2],C_HEX_N,1],[[aNO3],C_GOLD,1],[[aNG1,aNG2,aNG3],C_FAM_N,1],
            [[aNR1,aNR2,aNR3,aNR4],C_TR_D,1],[[aR1,aR2,aR3,aR4],C_TR,1.3],[[aC1,aC2],C_CY5,1.3],[[aO1,aO2],C_HEX,1.3],
            [[aG1,aG2,aG3,aG4,aG5,aG6],C_FAM,1.3]] },
  { grid:{left:587,top:118,width:447,height:310}, min:0.01, max:1e6, ticks:yTicksB, thr:thresholdB, yGap:34, xGap:20,
    groups:[[[bNC1,bNC2,bNC3,bNC4,bNC5],C_CY5_N,1],[[bNR2],C_TR_D,1],[[bNO1,bNO2],C_HEX_N,1],[[bNO3],C_GOLD,1],[[bNR1],C_TR_D,1],
            [[bNG1],C_FAM_N,1],[[bG1,bG2,bG3,bG4,bG5],C_FAM_N,1.1],[[bO1],C_GOLD,1.2],[[bR3,bR4,bR5,bR6,bR7,bR8],C_TR_D,1.2],
            [[bR1,bR2],C_TR,1.4]] },
  { grid:{left:78,top:622,width:428,height:302}, min:1e-4, max:1e6, ticks:yTicksC, thr:thresholdC, yGap:47, xGap:18,
    groups:[[[cNC1,cNC2,cNC3],C_CY5_N,1],[[cNO1,cNO3],C_HEX_N,1],[[cNO2],C_GOLD,1],[[cNR1],C_TR,1],[[cNR2,cNR3,cNR4,cNR5],C_TR_D,1],
            [[cNG1,cNG2,cNG3,cNG4,cNG5],C_FAM_N,1],[[cR2,cR3,cR5],C_TR_D,1.2],[[cR1,cR4],C_TR,1.3],
            [[cC1,cC2,cC3,cC4,cC5,cC6],C_CY5,1.3],[[cG1,cG2],C_GOLD,1.3]] },
  { grid:{left:589,top:622,width:426,height:300}, min:0.1, max:1e6, ticks:yTicksD, thr:thresholdD, yGap:41, xGap:20,
    groups:[[[dNC1,dNC2],C_CY5_N,1],[[dNO1,dNO2,dNO4],C_HEX_N,1],[[dNO3,dNO5],C_GOLD,1],[[dNG1,dNG2,dNG3],C_FAM_N,1],
            [[dC1,dC2,dC3,dC4],C_CY5,1.3],[[dR2,dR3,dR5],C_TR_D,1.3],[[dR1,dR4],C_TR,1.4],[[dG1,dG2,dG3,dG4],C_FAM,1.4]] }
];

function fmtExp(v){
  const n = Math.round(Math.log10(v));
  return '1.000e' + (n < 0 ? '-' : '+') + String(Math.abs(n)).padStart(3,'0');
}

const grid = [], xAxis = [], yAxis = [], series = [];
panels.forEach((p, i) => {
  grid.push(Object.assign({show:true, borderColor:'#a0a0a0', borderWidth:1, containLabel:false}, p.grid));
  xAxis.push({
    type:'value', gridIndex:i, min:0.5, max:45.5,
    name:'Cycle Number', nameLocation:'middle', nameGap:p.xGap,
    nameTextStyle:{fontSize:9, color:'#222', fontFamily:'Arial'},
    axisLine:{show:true, onZero:false, lineStyle:{color:'#222', width:1.5}},
    axisTick:{show:false, customValues:cycles},
    axisLabel:{customValues:cycles, fontSize:6, color:'#333', margin:5, fontFamily:'Arial'},
    splitLine:{show:true, lineStyle:{color:'#cdcdcd', width:1}}
  });
  yAxis.push({
    type:'log', logBase:10, gridIndex:i, min:p.min, max:p.max,
    name:'Delta Rn', nameLocation:'middle', nameGap:p.yGap, nameRotate:90,
    nameTextStyle:{fontSize:9, color:'#222', fontFamily:'Arial'},
    axisLine:{show:true, lineStyle:{color:'#222', width:1.5}},
    axisTick:{show:false, customValues:p.ticks},
    axisLabel:{customValues:p.ticks, formatter:fmtExp, fontSize:5.5, color:'#444', margin:5, fontFamily:'Arial'},
    splitLine:{show:true, lineStyle:{color:'#c9c9c9', width:1}}
  });
  p.groups.forEach(([list, color, width]) => {
    list.forEach(d => series.push({
      type:'line', xAxisIndex:i, yAxisIndex:i, data:d.map((v, k) => [cycles[k], v]), symbol:'none', showSymbol:false,
      connectNulls:false, silent:true, animation:false, emphasis:{disabled:true},
      lineStyle:{color:color, width:width, opacity:0.95}
    }));
  });
  series[series.length-1].markLine = {
    silent:true, symbol:['none','none'], animation:false, label:{show:false},
    lineStyle:{color:'#2e7a2e', width:1.8, type:'solid'},
    data:[{yAxis:p.thr}]
  };
});

// ---------- text & annotations ----------
const G = [];
function txt(x, y, t, font, color){ G.push({type:'text', z:100, x:x, y:y, style:{text:t, font:font, fill:color||'#111', align:'center', verticalAlign:'middle'}}); }
function box(x, y, w, h){ G.push({type:'rect', z:99, shape:{x:x, y:y, width:w, height:h}, style:{fill:'#fff'}}); }
function arrow(x1, y1, x2, y2){
  const a = Math.atan2(y2-y1, x2-x1), L = 12, s = 0.42;
  G.push({type:'line', z:101, shape:{x1:x1, y1:y1, x2:x2, y2:y2}, style:{stroke:'#000', lineWidth:2}});
  G.push({type:'polyline', z:101, shape:{points:[[x2-L*Math.cos(a-s), y2-L*Math.sin(a-s)],[x2,y2],[x2-L*Math.cos(a+s), y2-L*Math.sin(a+s)]]}, style:{stroke:'#000', lineWidth:2, fill:null}});
}
function sub(x, y){
  txt(x, y, 'Delta Rn vs Cycle', '12.5px Arial', '#333');
  G.push({type:'line', z:100, shape:{x1:x-51, y1:y+7, x2:x+51, y2:y+7}, style:{stroke:'#333', lineWidth:1}});
}
const BF = 'bold 16px Arial', TF = 'bold 21px Arial';
txt(275, 22, 'A-Well 1', TF); txt(808, 22, 'B-Well 2', TF); txt(280, 508, 'C-Well 3', TF); txt(810, 518, 'D-Well 4', TF);
sub(285, 101); sub(798, 103); sub(280, 607); sub(790, 607);
// A
box(393, 93, 128, 29);
txt(116, 86, 'G12-FAM', BF); arrow(153, 95, 233, 172); arrow(158, 95, 268, 183);
txt(226, 61, 'RotaTeq-HEX', BF); arrow(215, 83, 273, 163);
txt(362, 72, 'Rotarix-Cy5', BF); arrow(357, 85, 338, 172);
txt(442, 102, 'Xeno-TR', BF); arrow(448, 110, 448, 163);
box(353, 300, 74, 33); txt(388, 318, 'NTCs', BF);
// B
txt(672, 94, 'NSP3-TR', BF); arrow(680, 105, 744, 172); arrow(682, 105, 812, 173);
txt(858, 76, 'G9-HEX', BF); arrow(860, 93, 814, 155);
txt(957, 95, 'G4-FAM', BF); arrow(960, 108, 957, 172);
box(882, 289, 80, 31); txt(918, 306, 'NTCs', BF);
// C
txt(146, 592, 'G1-HEX', BF); arrow(158, 600, 234, 666);
txt(316, 564, 'G3-Cy5', BF); arrow(345, 573, 337, 650);
txt(426, 590, 'P[4]-TR', BF); arrow(427, 600, 427, 667);
box(353, 775, 80, 32); txt(389, 792, 'NTCs', BF);
// D
txt(670, 588, 'P[6]-FAM', BF); arrow(676, 600, 760, 677);
txt(845, 575, 'G2-TR', BF); arrow(845, 607, 810, 677); arrow(846, 607, 852, 678);
txt(938, 581, 'P[8]-Cy5', BF); arrow(942, 593, 953, 695);
box(877, 787, 76, 33); txt(906, 805, 'NTCs', BF);

const chart = echarts.init(document.getElementById('c'), null, {renderer:'canvas'});
chart.setOption({
  backgroundColor:'#fff', animation:false,
  textStyle:{fontFamily:'Arial'},
  grid:grid, xAxis:xAxis, yAxis:yAxis, series:series, graphic:G
});
</script></body></html>
